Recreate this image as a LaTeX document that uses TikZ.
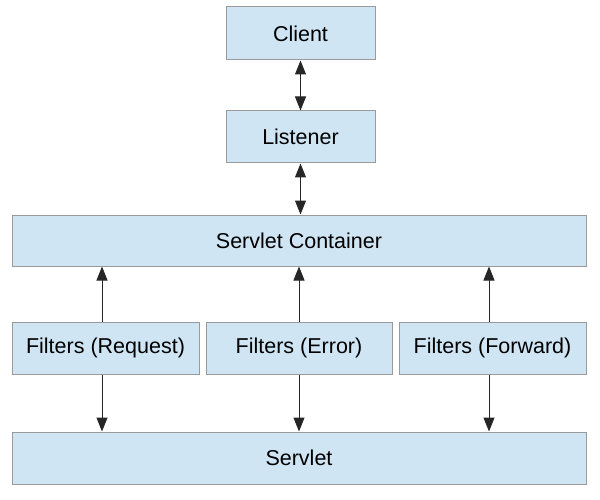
\documentclass[tikz,border=0pt]{standalone}
\usepackage{fontspec}
\setmainfont{Liberation Sans}
\usetikzlibrary{arrows.meta}
\definecolor{boxfill}{HTML}{CFE5F3}
\definecolor{boxline}{HTML}{9A9A9A}
\begin{document}
\begin{tikzpicture}[x=1pt,y=-1pt,
  box/.style={draw=boxline,fill=boxfill,line width=1pt,inner sep=0pt,
    font=\fontsize{21.5}{26}\selectfont},
  tip/.tip={Triangle[length=14pt,width=11pt]},
  arr/.style={line width=1pt,draw=black!85,-tip},
  darr/.style={line width=1pt,draw=black!85,tip-tip}]
\useasboundingbox (0,0) rectangle (600,500);
\node[box,minimum width=149pt,minimum height=53pt] (client) at (300.5,33.5) {Client};
\node[box,minimum width=149pt,minimum height=52pt] (listener) at (300.5,137) {Listener};
\node[box,minimum width=574pt,minimum height=51pt] (cont) at (299,240.5) {Servlet Container};
\node[box,minimum width=187pt,minimum height=52pt] (req) at (105.5,348) {Filters (Request)};
\node[box,minimum width=186pt,minimum height=52pt] (err) at (299,348) {Filters (Error)};
\node[box,minimum width=187pt,minimum height=52pt] (fwd) at (492.5,348) {Filters (Forward)};
\node[box,minimum width=574pt,minimum height=52pt] (servlet) at (299,458) {Servlet};
\draw[darr] (client.south) -- (listener.north);
\draw[darr] (listener.south) -- (listener.south |- cont.north);
\draw[arr] ([xshift=-3.5pt]req.north) -- ([xshift=-3.5pt]req.north |- cont.south);
\draw[arr] (err.north) -- (err.north |- cont.south);
\draw[arr] ([xshift=-3.5pt]fwd.north) -- ([xshift=-3.5pt]fwd.north |- cont.south);
\draw[arr] ([xshift=-3.5pt]req.south) -- ([xshift=-3.5pt]req.south |- servlet.north);
\draw[arr] (err.south) -- (err.south |- servlet.north);
\draw[arr] ([xshift=-3.5pt]fwd.south) -- ([xshift=-3.5pt]fwd.south |- servlet.north);
\end{tikzpicture}
\end{document}
